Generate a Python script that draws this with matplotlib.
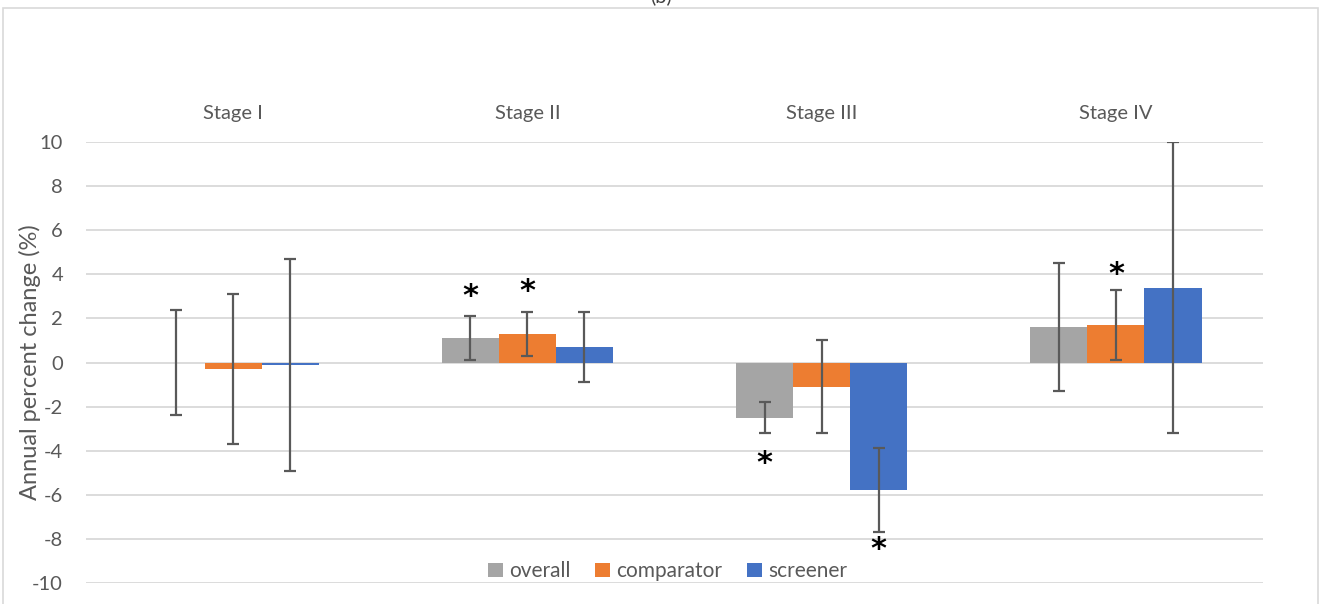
import matplotlib
matplotlib.use("Agg")
import matplotlib.pyplot as plt
import numpy as np
from matplotlib.patches import Rectangle, Patch

plt.rcParams['font.family'] = ['Lato', 'DejaVu Sans']

stages = ["Stage I", "Stage II", "Stage III", "Stage IV"]
series = ["overall", "comparator", "screener"]
colors = ["#A5A5A5", "#ED7D31", "#4472C4"]

overall = [0.0, 1.1, -2.5, 1.6]
overall_lo = [-2.4, 0.1, -3.2, -1.3]
overall_hi = [2.4, 2.1, -1.8, 4.5]

comparator = [-0.3, 1.3, -1.1, 1.7]
comparator_lo = [-3.7, 0.3, -3.2, 0.1]
comparator_hi = [3.1, 2.3, 1.0, 3.3]

screener = [-0.1, 0.7, -5.8, 3.4]
screener_lo = [-4.9, -0.9, -7.7, -3.2]
screener_hi = [4.7, 2.3, -3.9, 10.0]

# significance markers: (stage index, series index, y position)
ast_stage = [1, 1, 2, 2, 3]
ast_series = [0, 1, 0, 2, 1]
ast_y = [3.0, 3.2, -4.6, -8.5, 4.0]

yticks = [10, 8, 6, 4, 2, 0, -2, -4, -6, -8, -10]

W, H = 1322, 604
fig = plt.figure(figsize=(W / 100, H / 100), dpi=100)

# outer chart frame
fig.patches.append(Rectangle((3 / W, -0.01), (1318 - 3) / W, 1 - 8 / H + 0.01,
                             transform=fig.transFigure, fill=False,
                             edgecolor="#D9D9D9", linewidth=1.2))
fig.text(661 / W, 1 - 2 / H, "(b)", ha="center", va="baseline",
         fontsize=14.5, color="#404040")

ax = fig.add_axes([86 / W, 1 - 583 / H, (1263 - 86) / W, 441 / H])

x = np.arange(len(stages))
bw = 0.194
data = [overall, comparator, screener]
los = [overall_lo, comparator_lo, screener_lo]
his = [overall_hi, comparator_hi, screener_hi]
for i in range(3):
    xs = x + (i - 1) * bw
    vals = np.array(data[i])
    ax.bar(xs, vals, width=bw, color=colors[i], zorder=2, label=series[i])
    lo = np.array(los[i])
    hi = np.array(his[i])
    ax.errorbar(xs, vals, yerr=[vals - lo, hi - vals], fmt="none",
                ecolor="#595959", elinewidth=1.6, capsize=4, capthick=1.6, zorder=3)

for s, k, yv in zip(ast_stage, ast_series, ast_y):
    ax.text(x[s] + (k - 1) * bw, yv, "*", ha="center", va="center",
            fontsize=22, fontweight="bold", color="black",
            family="DejaVu Sans", zorder=4)

ax.set_xlim(-0.5, len(stages) - 0.5)
ax.set_ylim(-10, 10)
ax.set_yticks(yticks)
ax.set_yticklabels([str(t) for t in yticks])
ax.set_xticks([])
ax.tick_params(axis="y", length=0, pad=16.5, labelsize=14.5, labelcolor="#595959")
for sp in ax.spines.values():
    sp.set_visible(False)
ax.yaxis.grid(True, color="#D9D9D9", linewidth=1.3, zorder=0)
ax.set_axisbelow(True)

for i, st in enumerate(stages):
    ax.text(x[i], 11.3, st, ha="center", va="center", fontsize=14.5,
            color="#595959", clip_on=False)

fig.text(30 / W, 1 - 362 / H, "Annual percent change (%)", rotation=90,
         ha="center", va="center", fontsize=17, color="#595959")

handles = [Patch(facecolor=c, edgecolor="none") for c in colors]
ax.legend(handles, series, loc="center", bbox_to_anchor=(0.494, 0.027),
          ncol=3, frameon=False, fontsize=15, labelcolor="#595959",
          handlelength=0.7, handleheight=0.7, handletextpad=0.3,
          columnspacing=1.2, borderaxespad=0)

fig.savefig("out.png", dpi=100)
